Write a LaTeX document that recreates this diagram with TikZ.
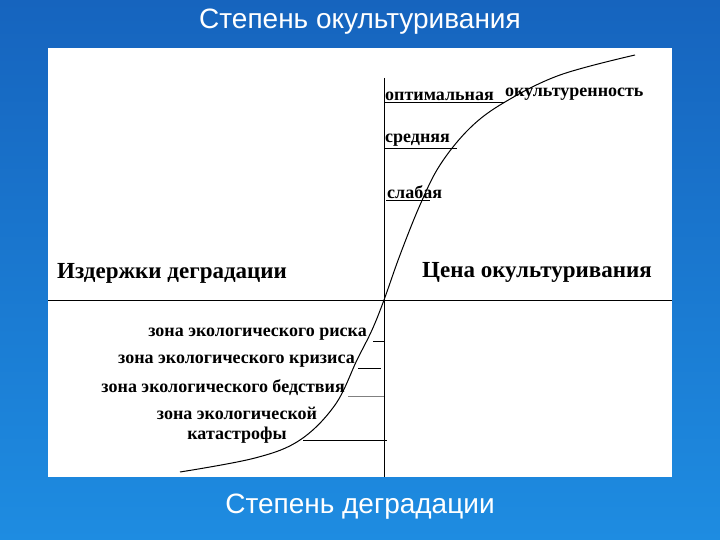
\documentclass[tikz,border=0pt]{standalone}
\usepackage{fontspec}
\setmainfont{Liberation Serif}
\newfontfamily\sansf{Liberation Sans}
\definecolor{bgtop}{RGB}{22,100,190}
\definecolor{bgbot}{RGB}{30,140,225}
\begin{document}
\begin{tikzpicture}[x=1pt,y=-1pt,
  lbl/.style={font=\bfseries\fontsize{18}{20}\selectfont,inner sep=0pt},
  big/.style={font=\bfseries\fontsize{23}{25}\selectfont,inner sep=0pt},
  ttl/.style={font=\sansf\fontsize{28}{30}\selectfont,text=white,inner sep=0pt},
  ln/.style={line width=1pt}]
\useasboundingbox (0,0) rectangle (720,540);
\shade[top color=bgtop,bottom color=bgbot] (0,0) rectangle (720,540);
\fill[white] (48,48) rectangle (672,477);
\node[ttl] (t1) at (360,22) {Степень окультуривания};
\node[ttl] (t2) at (360,507) {Степень деградации};
\coordinate (vtop) at (384,78);
\coordinate (vbot) at (384,477);
\coordinate (hl) at (48,300);
\coordinate (hr) at (672,300);
\draw[ln] (vtop) -- (vbot);
\draw[ln] (hl) -- (hr);
\draw[line width=1pt] plot[smooth,tension=0.6] coordinates {(180,472) (255,458) (300,440) (335,405) (357,360) (372,330) (384,300) (400,255) (420,205) (440,165) (470,128) (505,102) (560,75) (635,55)};
% upper labels
\node[lbl,anchor=south west] (opt) at (385,101) {оптимальная};
\node[lbl,anchor=south west] (okl) at (505,101) {окультуренность};
\node[lbl,anchor=south west] (mid) at (385,147) {средняя};
\node[lbl,anchor=south west] (weak) at (387,199) {слабая};
\draw[ln] (384,103) -- (505,103);
\draw[ln] (384,149) -- (457,149);
\draw[ln] (386,201) -- (430,201);
\node[big,anchor=west] (izd) at (57,273) {Издержки деградации};
\node[big,anchor=west] (cena) at (422,272) {Цена окультуривания};
% lower labels
\node[lbl,anchor=east] (r1) at (367,334) {зона экологического риска};
\node[lbl,anchor=east] (r2) at (355,361) {зона экологического кризиса};
\node[lbl,anchor=east] (r3) at (345,388) {зона экологического бедствия};
\node[lbl,align=center] (r4) at (237,425) {зона экологической\\катастрофы};
\draw[ln] (373,341) -- (384,341);
\draw[ln] (358,368) -- (381,368);
\draw[line width=0.5pt,gray] (348,396) -- (384,396);
\draw[ln] (303,440) -- (387,440);
\end{tikzpicture}
\end{document}
